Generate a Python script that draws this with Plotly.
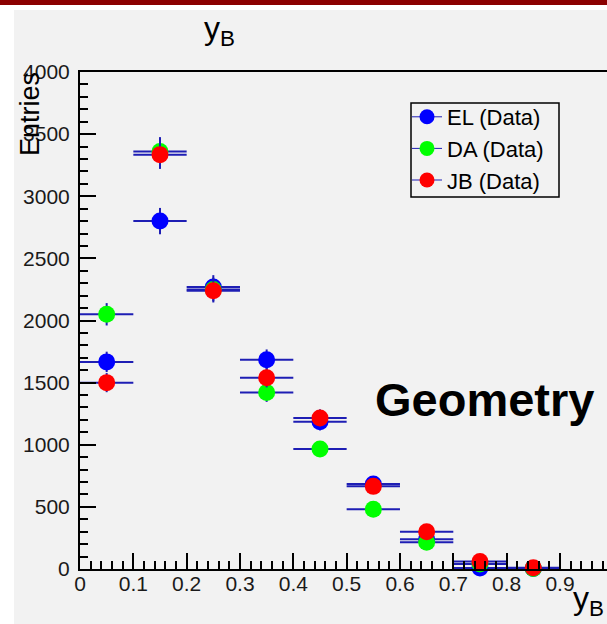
import plotly.graph_objects as go

# y_B bin centres (bin width 0.1)
bin_centers = [0.05, 0.15, 0.25, 0.35, 0.45, 0.55, 0.65, 0.75, 0.85]
bin_half_width = 0.05

# Entries per bin for the three reconstruction methods
el_entries = [1667, 2800, 2270, 1685, 1185, 685, 240, 8, 5]
da_entries = [2050, 3360, 2250, 1420, 965, 480, 215, 40, 5]
jb_entries = [1500, 3335, 2240, 1540, 1215, 665, 300, 60, 10]

# Vertical uncertainties per bin
el_errors = [82, 106, 95, 82, 69, 52, 31, 6, 4]
da_errors = [90, 116, 95, 75, 62, 44, 29, 13, 4]
jb_errors = [77, 115, 95, 78, 70, 52, 35, 15, 6]

series = [
    ("EL (Data)", el_entries, el_errors, "#0000ff"),
    ("DA (Data)", da_entries, da_errors, "#00ff00"),
    ("JB (Data)", jb_entries, jb_errors, "#ff0000"),
]

W, H = 607, 624
L, T, B, R = 80, 72, 55, 0
PW, PH = W - L - R, H - T - B
ERR_COLOR = "#1e1eb4"
FONT = "Liberation Sans, Arial, Helvetica, sans-serif"


def px_x(px):
    return (px - L) / PW


def px_y(py):
    return (H - B - py) / PH


fig = go.Figure()

for name, vals, errs, color in series:
    fig.add_trace(go.Scatter(
        x=bin_centers, y=vals, mode="markers", name=name, showlegend=False,
        marker=dict(symbol="circle", size=17, color=color, line=dict(width=0)),
        error_x=dict(type="constant", value=bin_half_width, color=ERR_COLOR,
                     thickness=2, width=0),
        error_y=dict(type="data", array=errs, color=ERR_COLOR, thickness=2, width=0),
        cliponaxis=False,
    ))

# legend-only entries: marker with a line through it
for name, vals, errs, color in series:
    fig.add_trace(go.Scatter(
        x=[None], y=[None], mode="lines+markers", name=name,
        marker=dict(symbol="circle", size=15, color=color, line=dict(width=0)),
        line=dict(color=ERR_COLOR, width=1),
    ))

fig.update_layout(
    width=W, height=H,
    margin=dict(l=L, r=R, t=T, b=B, pad=0),
    paper_bgcolor="#ffffff",
    plot_bgcolor="#f2f2f2",
    font=dict(family=FONT, color="#000000"),
    showlegend=True,
    legend=dict(
        x=px_x(407), y=px_y(96), xanchor="left", yanchor="top",
        bgcolor="rgba(0,0,0,0)", borderwidth=0,
        font=dict(size=22, family=FONT), itemwidth=30, tracegroupgap=0,
    ),
    xaxis=dict(
        range=[0, (W - L) / 533.3], showgrid=False, zeroline=False,
        showline=True, linecolor="#000000", linewidth=2, mirror=True,
        ticks="inside", ticklen=16, tickwidth=2, tickcolor="#000000",
        dtick=0.1, tick0=0,
        minor=dict(ticks="inside", ticklen=8, tickwidth=2, dtick=0.02, tick0=0,
                   tickcolor="#000000", showgrid=False),
        tickfont=dict(size=21, family=FONT, color="#1a1a1a"),
        ticklabelstandoff=-5,
    ),
    yaxis=dict(
        range=[0, 4000], showgrid=False, zeroline=False,
        showline=True, linecolor="#000000", linewidth=2, mirror=False,
        ticks="inside", ticklen=16, tickwidth=2, tickcolor="#000000",
        dtick=500, tick0=0,
        minor=dict(ticks="inside", ticklen=8, tickwidth=2, dtick=100, tick0=0,
                   tickcolor="#000000", showgrid=False),
        tickfont=dict(size=21, family=FONT, color="#1a1a1a"),
        ticklabelstandoff=4,
    ),
)

# canvas: dark header strip and grey pad
fig.add_shape(type="rect", xref="paper", yref="paper",
              x0=px_x(14), x1=px_x(W), y0=px_y(H), y1=px_y(10),
              fillcolor="#f2f2f2", line=dict(width=0), layer="below")
fig.add_shape(type="rect", xref="paper", yref="paper",
              x0=px_x(0), x1=px_x(W), y0=px_y(5), y1=px_y(0),
              fillcolor="#8b0000", line=dict(width=0), layer="below")
# legend frame
fig.add_shape(type="rect", xref="paper", yref="paper",
              x0=px_x(411), x1=px_x(559), y0=px_y(197), y1=px_y(103),
              fillcolor="rgba(0,0,0,0)", line=dict(color="#000000", width=1.5),
              layer="above")

# title, axis titles and label
fig.add_annotation(text="y<sub>B</sub>", xref="paper", yref="paper",
                   x=px_x(202), y=px_y(8), xanchor="left", yanchor="top",
                   showarrow=False, font=dict(size=32, family=FONT))
fig.add_annotation(text="Entries", xref="paper", yref="paper", textangle=-90,
                   x=px_x(30), y=px_y(70), xanchor="center", yanchor="top",
                   showarrow=False, font=dict(size=27, family=FONT))
fig.add_annotation(text="y<sub>B</sub>", xref="paper", yref="paper",
                   x=px_x(571), y=px_y(578), xanchor="left", yanchor="top",
                   showarrow=False, font=dict(size=32, family=FONT))
fig.add_annotation(text="<b>Geometry</b>", xref="paper", yref="paper",
                   x=px_x(373), y=px_y(399), xanchor="left", yanchor="middle",
                   showarrow=False, font=dict(size=47, family=FONT))

fig.write_html("out.html")
